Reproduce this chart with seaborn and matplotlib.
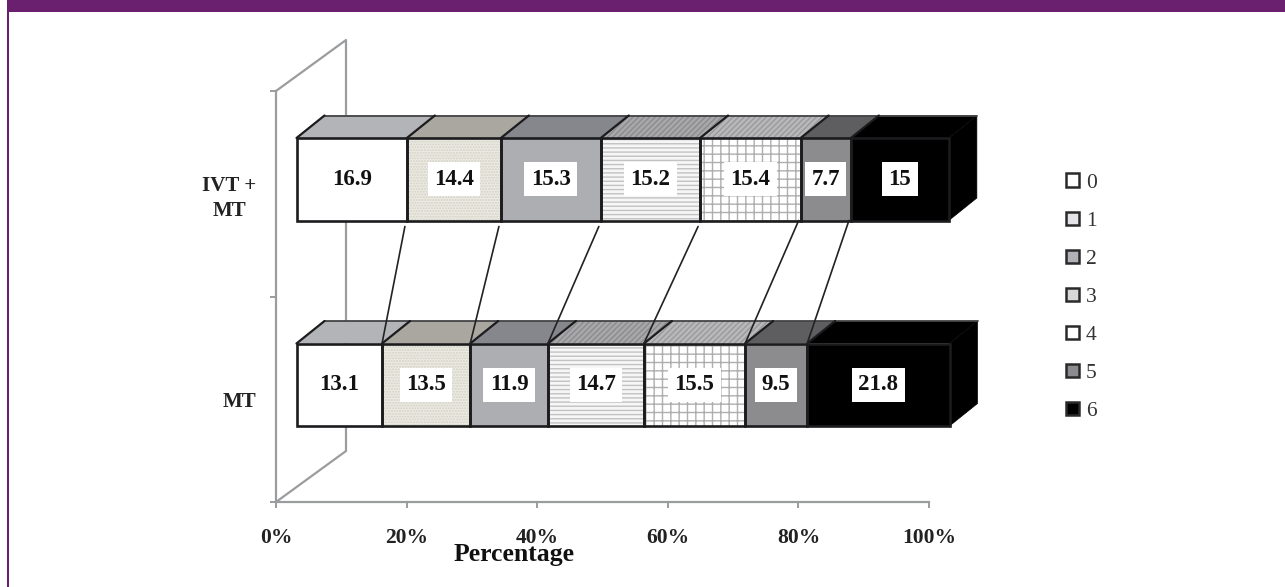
import numpy as np
import matplotlib
matplotlib.use("Agg")
import matplotlib.pyplot as plt
from matplotlib.patches import Polygon, Rectangle, Patch
import seaborn as sns

# Modified Rankin Scale shares per treatment group
groups = ["IVT +\nMT", "MT"]
scores = ["0", "1", "2", "3", "4", "5", "6"]
ivt_mt = [16.9, 14.4, 15.3, 15.2, 15.4, 7.7, 15]
mt_only = [13.1, 13.5, 11.9, 14.7, 15.5, 9.5, 21.8]
ivt_mt_text = ["16.9", "14.4", "15.3", "15.2", "15.4", "7.7", "15"]
mt_only_text = ["13.1", "13.5", "11.9", "14.7", "15.5", "9.5", "21.8"]
x_ticks = [0, 20, 40, 60, 80, 100]
x_tick_text = ["0%", "20%", "40%", "60%", "80%", "100%"]

front_fill = ["#ffffff", "#ecebe3", "#acaeb2", "#f6f6f6", "#ffffff", "#8c8c8e", "#000000"]
front_hatch = [None, "......", None, "----", "++", None, None]
hatch_ink = ["#ffffff", "#d4d2c6", "#acaeb2", "#c2c2c2", "#aeaeae", "#8c8c8e", "#000000"]
top_fill = ["#b2b4b8", "#a9a79f", "#85878c", "#a8a8aa", "#b8b8ba", "#5e5e60", "#000000"]
top_hatch = [None, None, None, "//////", "//////", None, None]
top_ink = ["#b2b4b8", "#a9a79f", "#85878c", "#8c8c8e", "#9a9a9c", "#5e5e60", "#000000"]
legend_fill = ["#ffffff", "#e4e4e6", "#b0b2b8", "#d8d8d8", "#ffffff", "#8c8c8e", "#000000"]

W, H = 1285, 587
sns.set_theme(style="white")
plt.rcParams["font.family"] = ["Liberation Serif", "DejaVu Serif"]
plt.rcParams["hatch.linewidth"] = 1.0
plt.rcParams["axes.unicode_minus"] = False

fig = plt.figure(figsize=(W / 100, H / 100), dpi=100, facecolor="white")


def px_axes(left, top, width, height, **kw):
    return fig.add_axes([left / W, 1 - (top + height) / H, width / W, height / H], **kw)


# Page furniture: coloured header band and thin rule at the left
fig.patches.append(Rectangle((7 / W, 1 - 12 / H), 1 - 7 / W, 12 / H,
                             transform=fig.transFigure, facecolor="#6b206f", edgecolor="none"))
fig.patches.append(Rectangle((7 / W, 0), 2 / W, 1,
                             transform=fig.transFigure, facecolor="#6b206f", edgecolor="none"))

# Floor and wall of the oblique box
wall = px_axes(276, 91, 653, 411)
wall.patch.set_alpha(0)
wall_grey = "#9a9c9e"
wall.set_xlim(0, 100)
wall.set_ylim(1.5, -0.5)
sns.despine(ax=wall, top=True, right=True)
for side in ("left", "bottom"):
    wall.spines[side].set_color(wall_grey)
    wall.spines[side].set_linewidth(1.6)
wall.set_xticks(x_ticks, x_tick_text, fontsize=15.5, color="#222222", fontweight="semibold")
wall.tick_params(axis="x", which="major", bottom=True, length=4, width=1.4, color=wall_grey, pad=15)
wall.set_yticks([-0.5, 0.5, 1.5], ["", "", ""])
wall.set_yticks([0, 1], groups, minor=True, fontsize=15, fontweight="bold", color="#222222",
                multialignment="center", linespacing=1.35)
wall.tick_params(axis="y", which="major", left=True, length=4, width=1.4, color=wall_grey)
wall.tick_params(axis="y", which="minor", left=False, length=0, pad=14)
wall.set_xlabel("Percentage", fontsize=18.5, fontweight="bold", color="#111111", va="center")
wall.xaxis.set_label_coords((514 - 276) / 653, -(555 - 502) / 411)

box_dx, box_dy = 70 / 653, 51 / 411
wall.plot([0, box_dx, box_dx, 0], [1, 1 + box_dy, box_dy, 0], color=wall_grey, lw=1.6,
          transform=wall.transAxes, clip_on=False)

# The bars stand 20 px right and 14 px above the wall's origin, on the same scale
bars = px_axes(296.5, 76.5, 653, 411)
bars.patch.set_alpha(0)

bar_height = 82.5 / 205.5
depth_x = 28 / 6.53
depth_y = 22.5 / 205.5
ink = "#1c1c1e"

left_edges = np.cumsum([[0, 0]] + [list(pair) for pair in zip(ivt_mt, mt_only)], axis=0)
totals = left_edges[1:]
starts = left_edges[:-1]

# Stacked segments: widest cumulative layer first, each shorter one painted over it
for i in reversed(range(len(scores))):
    sns.barplot(x=totals[i], y=groups, orient="h", color=front_fill[i], saturation=1,
                width=bar_height, linewidth=0, edgecolor=hatch_ink[i], hatch=front_hatch[i],
                errorbar=None, ax=bars)
bars.set_xlim(0, 100)
bars.set_ylim(1.5, -0.5)
bars.axis("off")

for row in range(len(groups)):
    top = row - bar_height / 2
    bottom = row + bar_height / 2
    for i in range(len(scores)):
        l, r = starts[i][row], totals[i][row]
        # Top face of each segment
        face = Polygon([(l, top), (r, top), (r + depth_x, top - depth_y), (l + depth_x, top - depth_y)],
                       closed=True, facecolor=top_fill[i], edgecolor=top_ink[i],
                       hatch=top_hatch[i], linewidth=0, zorder=3, clip_on=False)
        bars.add_patch(face)
        bars.plot([l + depth_x, r + depth_x], [top - depth_y, top - depth_y], color="#444446",
                  lw=1.3, zorder=4, clip_on=False)
        bars.plot([l, l + depth_x], [top, top - depth_y], color=ink, lw=1.6, zorder=4, clip_on=False)
        # Front outline
        bars.add_patch(Rectangle((l, top), r - l, bottom - top, fill=False, edgecolor=ink,
                                 linewidth=1.9, zorder=5, clip_on=False))
    # End cap of the black segment
    r = totals[-1][row]
    bars.add_patch(Polygon([(r, top), (r + depth_x, top - depth_y),
                            (r + depth_x, bottom - depth_y), (r, bottom)],
                           closed=True, facecolor="#000000", edgecolor="#000000", linewidth=0.5,
                           zorder=3, clip_on=False))

# Value labels on white plates
for row, (values, texts) in enumerate([(ivt_mt, ivt_mt_text), (mt_only, mt_only_text)]):
    centre = np.cumsum(values) - np.array(values) / 2
    for xc, label in zip(centre, texts):
        bars.text(xc, row, label, ha="center", va="center", fontsize=16.5, fontweight="bold",
                  color="#111111", zorder=7,
                  bbox=dict(boxstyle="square,pad=0.28", facecolor="white", edgecolor="none"))

# Series lines joining the two stacks
line_gap = [6, 6, 6, 6, 0, 0]
for i in range(len(scores) - 1):
    bars.plot([totals[i][0] - 0.3, totals[i][1]],
              [bar_height / 2 + line_gap[i] / 205.5, 1 - bar_height / 2],
              color="#222224", lw=1.2, zorder=6, clip_on=False)

# Legend
handles = [Patch(facecolor=c, edgecolor="#2a2a2c", linewidth=1.8) for c in legend_fill]
fig.legend(handles, scores, loc="upper left", bbox_to_anchor=(1060 / W, 1 - 167 / H), frameon=False,
           fontsize=15.5, handlelength=0.6, handleheight=0.6, handletextpad=0.3,
           labelspacing=0.865, labelcolor="#333333", borderpad=0.3, borderaxespad=0)

fig.savefig("out.png", dpi=100)
